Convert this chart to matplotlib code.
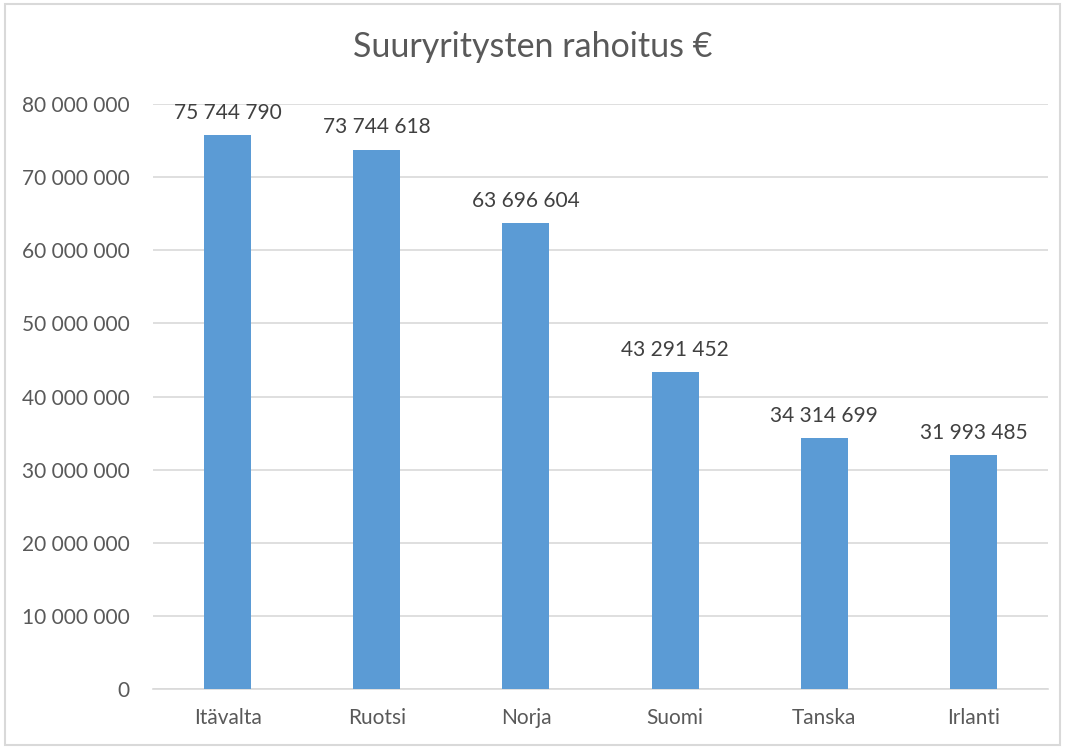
import matplotlib.pyplot as plt
from matplotlib.patches import Rectangle

countries = ["Itävalta", "Ruotsi", "Norja", "Suomi", "Tanska", "Irlanti"]
funding = [75744790, 73744618, 63696604, 43291452, 34314699, 31993485]
yticks = [0, 10000000, 20000000, 30000000, 40000000, 50000000, 60000000, 70000000, 80000000]


def fi_fmt(v):
    return f"{v:,}".replace(",", " ")


plt.rcParams['font.family'] = ['Lato', 'DejaVu Sans']
text_col = '#595959'

fig = plt.figure(figsize=(10.65, 7.49), dpi=100)
ax = fig.add_axes([0.1437, 0.0801, 0.8404, 0.781])

x = list(range(len(countries)))
ax.bar(x, funding, width=0.315, color='#5b9bd5', zorder=3)

for xi, v in zip(x, funding):
    ax.annotate(fi_fmt(v), (xi, v), xytext=(0, 9), textcoords='offset points',
                ha='center', va='bottom', fontsize=15, color='#404040')

ax.set_xlim(-0.5, len(countries) - 0.5)
ax.set_ylim(0, 80000000)
ax.set_yticks(yticks)
ax.set_yticklabels([fi_fmt(t) for t in yticks])
ax.set_xticks(x)
ax.set_xticklabels(countries)
ax.tick_params(axis='y', length=0, pad=17, labelsize=15, labelcolor=text_col)
ax.tick_params(axis='x', length=0, pad=14, labelsize=15, labelcolor=text_col)
ax.grid(axis='y', color='#d9d9d9', linewidth=1.2, zorder=0)

for side in ['left', 'right', 'top']:
    ax.spines[side].set_visible(False)
ax.spines['bottom'].set_color('#d9d9d9')
ax.spines['bottom'].set_linewidth(1.2)

fig.suptitle('Suuryritysten rahoitus €', y=0.958, fontsize=24.5, color=text_col)

# outer chart border
fig.patches.append(Rectangle((0.005, 0.005), 0.99, 0.99, transform=fig.transFigure,
                             fill=False, edgecolor='#d9d9d9', linewidth=1.5))

fig.savefig('out.png', dpi=100)
